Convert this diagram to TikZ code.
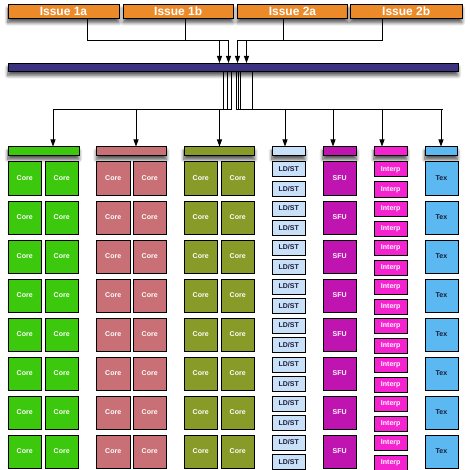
\documentclass[tikz,border=0pt]{standalone}
\usepackage{fontspec}
\setmainfont{Liberation Sans}
\usetikzlibrary{arrows.meta,shadows.blur}
\definecolor{issueor}{HTML}{EC8A2A}
\definecolor{barblue}{HTML}{3B3280}
\definecolor{cgreen}{HTML}{3CC80C}
\definecolor{cpink}{HTML}{C87075}
\definecolor{colive}{HTML}{889A28}
\definecolor{cldst}{HTML}{C8E0F8}
\definecolor{csfu}{HTML}{C014B0}
\definecolor{cinterp}{HTML}{F522D0}
\definecolor{ctex}{HTML}{5CB8F0}
\definecolor{darktext}{HTML}{1A1A38}
\begin{document}
\begin{tikzpicture}[x=1pt,y=-1pt,
  shd/.style={blur shadow={shadow xshift=0pt, shadow yshift=-4pt, shadow blur radius=3.5pt, shadow blur steps=8, shadow opacity=70}},
  box/.style={draw=black, line width=0.9pt, inner sep=0pt, anchor=north west},
  issue/.style={box, shd, fill=issueor, minimum height=14pt, text=white, font=\bfseries\fontsize{12}{12}\selectfont},
  hdr/.style={box, shd, minimum height=8.5pt},
  cellfont/.style={font=\bfseries\fontsize{7}{8}\selectfont},
  big/.style={box, cellfont, minimum width=33.5pt, minimum height=33pt},
  small/.style={box, cellfont, minimum width=33.5pt, minimum height=15pt},
  core/.style={big, text=white},
  wire/.style={line width=0.8pt},
  arr/.style={line width=0.8pt, -{Triangle[width=5pt,length=7pt]}}
]
\useasboundingbox (0,0) rectangle (469,470);
% issue boxes
\node[issue, minimum width=111pt] (i1a) at (7.5,4) {Issue 1a};
\node[issue, minimum width=109.5pt] (i1b) at (123,4) {Issue 1b};
\node[issue, minimum width=110pt] (i2a) at (237,4) {Issue 2a};
\node[issue, minimum width=111.5pt] (i2b) at (350,4) {Issue 2b};
% bar
\node[box, shd, fill=barblue, minimum width=450pt, minimum height=8pt] (bar) at (7.5,63) {};
% headers
\node[hdr, fill=cgreen, minimum width=71pt] (hgreen) at (7.5,146.5) {};
\node[hdr, fill=cpink, minimum width=70pt] (hpink) at (96,146.5) {};
\node[hdr, fill=colive, minimum width=70.5pt] (holive) at (183.5,146.5) {};
\node[hdr, fill=cldst, minimum width=33pt] (hldst) at (271.5,146.5) {};
\node[hdr, fill=csfu, minimum width=33.5pt] (hsfu) at (322.5,146.5) {};
\node[hdr, fill=cinterp, minimum width=33pt] (hinterp) at (373.5,146.5) {};
\node[hdr, fill=ctex, minimum width=32.5pt] (htex) at (424.5,146.5) {};
% issue connectors
\coordinate (j1) at (87,40);
\coordinate (j2) at (185,40);
\coordinate (j3) at (228.5,40);
\coordinate (a1) at (219.5,40);
\coordinate (k1) at (237.5,40);
\coordinate (k2) at (246.5,40);
\coordinate (k3) at (283,40);
\coordinate (k4) at (382,40);
\draw[wire] (i1a.south -| j1) -- (j1) -- (j3);
\draw[wire] (i1b.south -| j2) -- (j2);
\draw[arr] (a1) -- (a1 |- bar.north);
\draw[arr] (j3) -- (j3 |- bar.north);
\draw[wire] (i2b.south -| k4) -- (k4) -- (k1);
\draw[wire] (i2a.south -| k3) -- (k3);
\draw[arr] (k1) -- (k1 |- bar.north);
\draw[arr] (k2) -- (k2 |- bar.north);
% distribution
\coordinate (lh) at (53,109);
\coordinate (lr) at (231.5,109);
\coordinate (rl) at (236,109);
\coordinate (rh) at (443,109);
\draw[wire] (lh) -- (lr);
\draw[wire] (rl) -- (rh);
\foreach \xx in {223,227.3,231.5,236,238.2,240.4,252.7}{
  \coordinate (v) at (\xx,109);
  \draw[wire] (v |- bar.south) -- (v);
}
\coordinate (d1) at (53,109);
\coordinate (d2) at (136,109);
\coordinate (d3) at (219.5,109);
\coordinate (d4) at (285,109);
\coordinate (d5) at (333,109);
\coordinate (d6) at (382,109);
\coordinate (d7) at (441,109);
\draw[arr] (d1) -- (d1 |- hgreen.north);
\draw[arr] (d2) -- (d2 |- hpink.north);
\draw[arr] (d3) -- (d3 |- holive.north);
\draw[arr] (d4) -- (d4 |- hldst.north);
\draw[arr] (d5) -- (d5 |- hsfu.north);
\draw[arr] (d6) -- (d6 |- hinterp.north);
\draw[arr] (d7) -- (d7 |- htex.north);
% cells
\foreach \k in {0,...,7}{
  \pgfmathsetmacro\yt{161.5+39*\k}
  \pgfmathsetmacro\yb{181+39*\k}
  \pgfmathsetmacro\yi{161.5+39*\k}
  \pgfmathsetmacro\yj{181.5+39*\k}
  \node[core, fill=cgreen] (ga\k) at (7.5,\yt) {Core};
  \node[core, fill=cgreen] (gb\k) at (44.5,\yt) {Core};
  \node[core, fill=cpink] (pa\k) at (96,\yt) {Core};
  \node[core, fill=cpink] (pb\k) at (132.5,\yt) {Core};
  \node[core, fill=colive] (oa\k) at (183.5,\yt) {Core};
  \node[core, fill=colive] (ob\k) at (220.5,\yt) {Core};
  \node[small, fill=cldst, text=darktext] (la\k) at (271.5,\yt) {LD/ST};
  \node[small, fill=cldst, text=darktext] (lb\k) at (271.5,\yb) {LD/ST};
  \node[big, fill=csfu, text=white] (s\k) at (322.5,\yt) {SFU};
  \node[small, fill=cinterp, text=white] (ia\k) at (373.5,\yi) {Interp};
  \node[small, fill=cinterp, text=white] (ib\k) at (373.5,\yj) {Interp};
  \node[big, fill=ctex, text=darktext, minimum width=33pt] (t\k) at (424.5,\yt) {Tex};
}
\end{tikzpicture}
\end{document}
